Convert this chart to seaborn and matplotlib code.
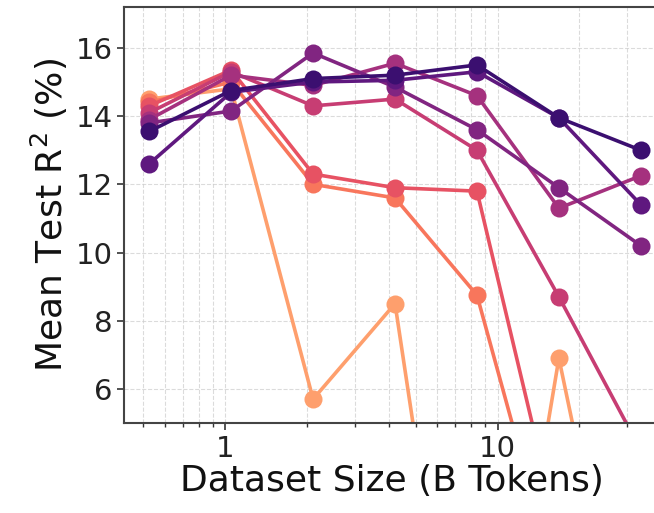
import numpy as np
import pandas as pd
import seaborn as sns
import matplotlib
from matplotlib import pyplot as plt

# dataset sizes (B tokens)
sizes = [0.525, 1.05, 2.1, 4.2, 8.4, 16.8, 33.6]

# mean test R^2 (%) per run, lightest colour first (drawn first)
s_light_orange = [14.5, 14.8, 5.7, 8.5, -7.5, 6.9, -4.6]
s_orange = [14.4, 15.0, 12.0, 11.6, 8.75, 0.0, -3.0]
s_red = [14.3, 15.35, 12.3, 11.9, 11.8, 1.7, -2.0]
s_pink = [14.1, 15.3, 14.3, 14.5, 13.0, 8.7, 4.2]
s_magenta = [13.9, 15.2, 14.9, 15.55, 14.6, 11.3, 12.25]
s_purple = [13.8, 14.15, 15.85, 14.85, 13.6, 11.9, 10.2]
s_dark_purple = [12.6, 14.7, 15.0, 15.05, 15.3, 13.95, 11.4]
s_darkest = [13.55, 14.75, 15.1, 15.2, 15.5, 13.95, 13.0]

runs = ["r1", "r2", "r3", "r4", "r5", "r6", "r7", "r8"]
series = [s_light_orange, s_orange, s_red, s_pink, s_magenta,
          s_purple, s_dark_purple, s_darkest]

df = pd.DataFrame({
    "size": np.tile(sizes, len(runs)),
    "r2": np.concatenate(series),
    "run": np.repeat(runs, len(sizes)),
})

cmap = matplotlib.colormaps["magma"]
palette = [cmap(v) for v in np.linspace(0.8, 0.2, len(runs))]

sns.set_style("white")
plt.rcParams["font.family"] = ["DejaVu Sans"]

fig = plt.figure(figsize=(6.54, 5.13), dpi=100)
ax = fig.add_axes([0.19, 0.1754, 0.82, 0.811])

sns.lineplot(data=df, x="size", y="r2", hue="run", hue_order=runs,
             palette=palette, marker="o", markersize=13, markeredgewidth=0,
             linewidth=2.6, legend=False, ax=ax, sort=True)

ax.set_xscale("log")
ax.set_xlim(0.425, 39.7)
ax.set_ylim(5.0, 17.2)
ax.set_yticks([6, 8, 10, 12, 14, 16])
ax.set_xticks([1, 10])
ax.set_xticklabels(["1", "10"])

ax.grid(True, which="both", linestyle="--", color="#cccccc", alpha=0.7, linewidth=0.8)
ax.tick_params(axis="both", which="major", labelsize=21, length=5, width=1.2,
               direction="out", colors="#333333", labelcolor="#222222")
ax.tick_params(axis="x", which="minor", length=3, width=1, direction="out", colors="#333333")
ax.tick_params(bottom=True, left=True)
ax.tick_params(axis="x", which="minor", bottom=True)

for side in ["left", "bottom", "top"]:
    ax.spines[side].set_color("#444444")
    ax.spines[side].set_linewidth(1.5)
ax.spines["right"].set_visible(False)

ax.set_xlabel("Dataset Size (B Tokens)", fontsize=26, color="#111111", labelpad=1)
ax.set_ylabel("Mean Test R$^2$ (%)", fontsize=26, color="#111111", labelpad=4)

fig.savefig("out.png", dpi=100)
